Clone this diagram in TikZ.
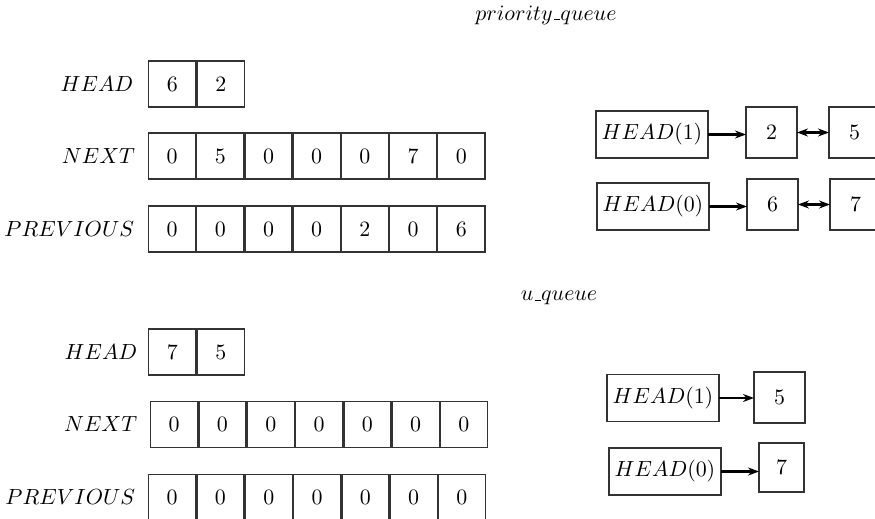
\RequirePackage{fix-cm}
\documentclass[tikz,border=0pt]{standalone}
\usetikzlibrary{arrows.meta}
\newcommand\myus{\mbox{\kern.06em\vbox{\hrule width.3em}}}
\begin{document}
\begin{tikzpicture}[x=0.5pt,y=-0.5pt,
  every node/.style={font=\fontsize{10.95}{13}\selectfont},
  cell/.style={draw=black!80, line width=0.75pt, inner sep=0pt, outer sep=0pt,
    minimum width=23.6pt, minimum height=23.2pt},
  sqbox/.style={draw=black!80, line width=0.75pt, inner sep=0pt, outer sep=0pt,
    minimum width=25.5pt, minimum height=25.5pt},
  headbox/.style={draw=black!80, line width=0.75pt, inner sep=0pt, outer sep=0pt,
    minimum width=56pt, minimum height=23.5pt},
  lab/.style={inner sep=0pt, anchor=east},
  ptr/.style={line width=1.1pt, -{Stealth[length=5.5pt,width=4pt]}},
  dptr/.style={line width=1.1pt, {Stealth[length=5.5pt,width=4pt]}-{Stealth[length=5.5pt,width=4pt]}}
]
\clip (0,0) rectangle (875,519);

% titles
\node (t1) at (546,15) {$priority\myus queue$};
\node (t2) at (559,298) {$u\myus queue$};

% ---- top arrays ----
\foreach \v [count=\i] in {6,2}
  \node[cell] (th\i) at ({148+48.5*(\i-0.5)},84) {$\v$};
\foreach \v [count=\i] in {0,5,0,0,0,7,0}
  \node[cell] (tn\i) at ({148+48.2*(\i-0.5)},156) {$\v$};
\foreach \v [count=\i] in {0,0,0,0,2,0,6}
  \node[cell] (tp\i) at ({148+48.2*(\i-0.5)},229) {$\v$};
\node[lab] (thl) at ([xshift=-7.5pt]th1.west) {$HEAD$};
\node[lab] (tnl) at ([xshift=-6.5pt]tn1.west) {$NEXT$};
\node[lab] (tpl) at ([xshift=-7pt]tp1.west) {$PREVIOUS$};

% ---- bottom arrays ----
\foreach \v [count=\i] in {7,5}
  \node[cell] (bh\i) at ({148+48.5*(\i-0.5)},352) {$\v$};
\foreach \v [count=\i] in {0,0,0,0,0,0,0}
  \node[cell] (bn\i) at ({150+48.3*(\i-0.5)},424.5) {$\v$};
\foreach \v [count=\i] in {0,0,0,0,0,0,0}
  \node[cell] (bp\i) at ({148+48.3*(\i-0.5)},497.5) {$\v$};
\node[lab] (bhl) at ([xshift=-5.5pt]bh1.west) {$HEAD$};
\node[lab] (bnl) at ([xshift=-6.5pt]bn1.west) {$NEXT$};
\node[lab] (bpl) at ([xshift=-6.5pt]bp1.west) {$PREVIOUS$};

% ---- top lists ----
\node[headbox] (ph1) at (652,134.5) {$HEAD(1)$};
\node[sqbox] (p2) at (771.5,132.5) {$2$};
\node[sqbox] (p5) at (854.5,132.5) {$5$};
\node[headbox] (ph0) at (653,206.5) {$HEAD(0)$};
\node[sqbox] (p6) at (772.5,204.5) {$6$};
\node[sqbox] (p7) at (855.5,204.5) {$7$};
\draw[ptr] (ph1.east) -- (ph1.east -| p2.west);
\draw[dptr] (p2.east) -- (p5.west);
\draw[ptr] (ph0.east) -- (ph0.east -| p6.west);
\draw[dptr] (p6.east) -- (p7.west);

% ---- bottom lists ----
\node[headbox] (uh1) at (663,398) {$HEAD(1)$};
\node[sqbox] (u5) at (779.5,397.5) {$5$};
\node[headbox] (uh0) at (665,471.5) {$HEAD(0)$};
\node[sqbox, minimum width=22.5pt, minimum height=24.5pt] (u7) at (781.5,467.5) {$7$};
\draw[ptr] (uh1.east) -- (uh1.east -| u5.west);
\draw[ptr] (uh0.east) -- (uh0.east -| u7.west);
\end{tikzpicture}
\end{document}
